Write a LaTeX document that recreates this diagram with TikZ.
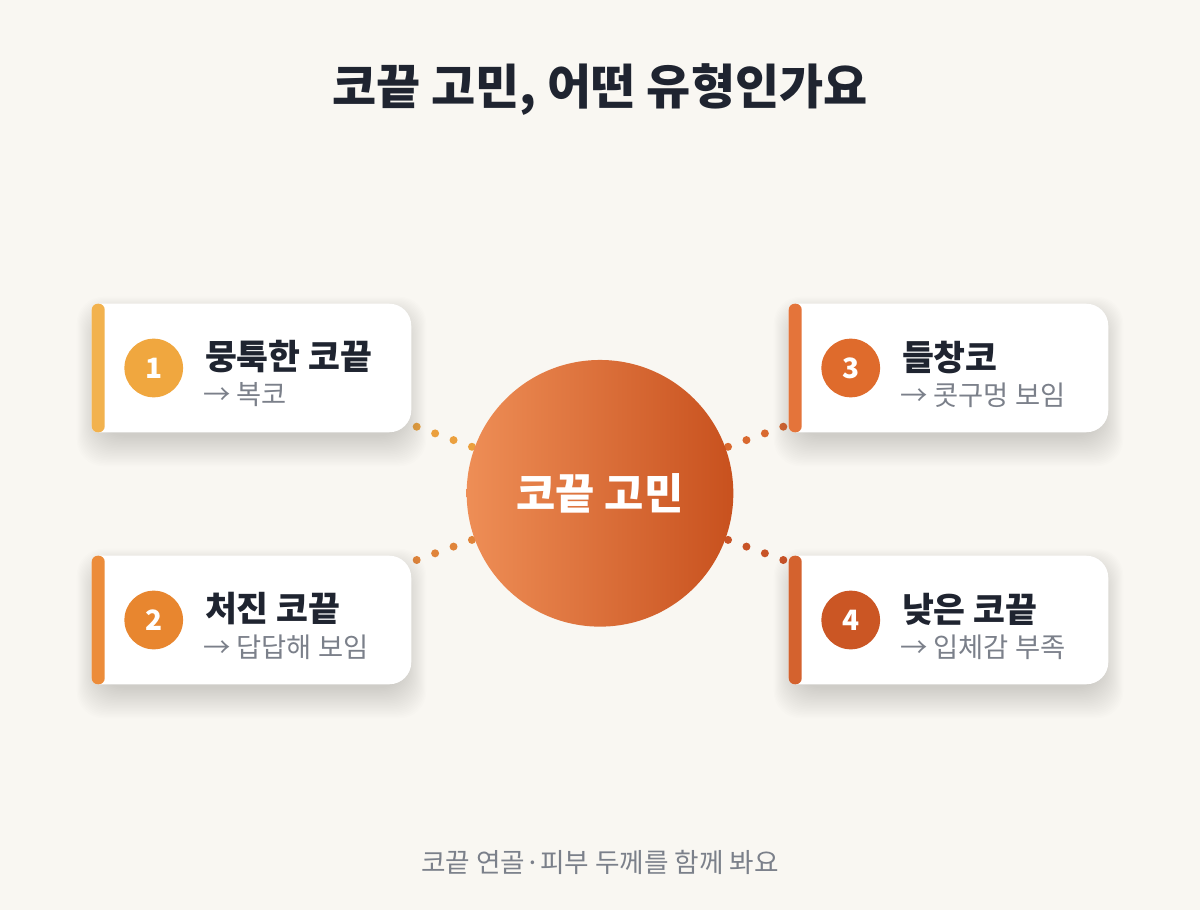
\documentclass[tikz,border=0pt]{standalone}
\usepackage{fontspec}
\setmainfont{Noto Sans CJK KR}
\usetikzlibrary{calc}
\definecolor{bg}{HTML}{F9F7F2}
\definecolor{ink}{HTML}{1F2430}
\definecolor{subgray}{HTML}{7B808A}
\definecolor{circL}{HTML}{EE8E56}
\definecolor{circR}{HTML}{C8511E}
\definecolor{numA}{HTML}{F0A73F}
\definecolor{numB}{HTML}{E8862F}
\definecolor{numC}{HTML}{DF6B2C}
\definecolor{numD}{HTML}{CB5624}
\definecolor{barA}{HTML}{F2B24E}
\definecolor{barB}{HTML}{EC8C3A}
\definecolor{barC}{HTML}{E4743A}
\definecolor{barD}{HTML}{D4622E}
\definecolor{dotA}{HTML}{EBA03E}
\definecolor{dotB}{HTML}{E0843A}
\definecolor{dotC}{HTML}{D9692F}
\definecolor{dotD}{HTML}{C85427}
\definecolor{shade}{HTML}{4A4640}
\tikzset{
  cardbox/.style={rectangle, minimum width=239.25pt, minimum height=96pt, inner sep=0pt, draw=none},
  shadowlayer/.style={fill=shade, fill opacity=0.0075, rounded corners=20pt},
  numdot/.style={circle, minimum size=44pt, inner sep=0pt, text=white, font=\bfseries\fontsize{21}{25}\selectfont},
  cardtitle/.style={inner sep=0pt, text=ink, font=\bfseries\fontsize{26}{31}\selectfont},
  cardsub/.style={inner sep=0pt, text=subgray, font=\fontsize{20.5}{24}\selectfont},
  dotline/.style={line width=6pt, line cap=round, dash pattern=on 0pt off 14.7pt, draw=#1},
}
\begin{document}
\begin{tikzpicture}[x=0.75pt,y=-0.75pt]
\fill[bg] (0,0) rectangle (1200,910);
\useasboundingbox (0,0) rectangle (1200,910);

\node[text=ink, font=\bfseries\fontsize{36}{42}\selectfont] (title) at (600,90) {코끝 고민, 어떤 유형인가요};

% centre
\coordinate (ctr) at (600,493.3);
\coordinate (d1) at (416.7,426.7);
\coordinate (d2) at (416.7,560);
\coordinate (d3) at (783.3,426.7);
\coordinate (d4) at (783.3,560);
\draw[dotline=dotA] (d1) -- (ctr);
\draw[dotline=dotB] (d2) -- (ctr);
\draw[dotline=dotC] (d3) -- (ctr);
\draw[dotline=dotD] (d4) -- (ctr);

\node[circle, minimum size=200pt, inner sep=0pt, left color=circL, right color=circR, text=white,
      font=\bfseries\fontsize{32}{38}\selectfont] (hub) at (ctr) {코끝 고민};

\foreach \n/\px/\py/\bc/\nc/\ttl/\subt in {
  1/251.5/368/barA/numA/뭉툭한 코끝/→ 복코,
  2/251.5/620/barB/numB/처진 코끝/→ 답답해 보임,
  3/948.5/368/barC/numC/들창코/→ 콧구멍 보임,
  4/948.5/620/barD/numD/낮은 코끝/→ 입체감 부족}
{
  \node[cardbox] (c\n) at (\px,\py) {};
  \foreach \k in {0,1.5,...,30}{
    \fill[shadowlayer] ($(c\n.north west)+(-\k*0.7+6, 14-\k*0.7)$) rectangle ($(c\n.south east)+(\k*0.7-6, 4+\k*1.0)$);
  }
  \fill[white,
        path picture={\fill[\bc] (c\n.north west) rectangle ($(c\n.south west)+(13,0)$);}]
    (c\n.west) [rounded corners=4.5pt] -- (c\n.north west) -- ($(c\n.north west)+(40,0)$)
    [rounded corners=16.5pt] -- (c\n.north east) -- (c\n.south east) -- ($(c\n.south west)+(40,0)$)
    [rounded corners=4.5pt] -- (c\n.south west) -- cycle;
  \node[numdot, fill=\nc] (n\n) at ($(c\n.west)+(62,0)$) {\n};
  \node[cardtitle, anchor=west] (t\n) at ($(c\n.west)+(113,-11)$) {\ttl};
  \node[cardsub, anchor=west] (s\n) at ($(c\n.west)+(111,27)$) {\subt};
}

\node[text=subgray, font=\fontsize{20}{24}\selectfont] (foot) at (600,862) {코끝 연골·피부 두께를 함께 봐요};
\end{tikzpicture}
\end{document}
